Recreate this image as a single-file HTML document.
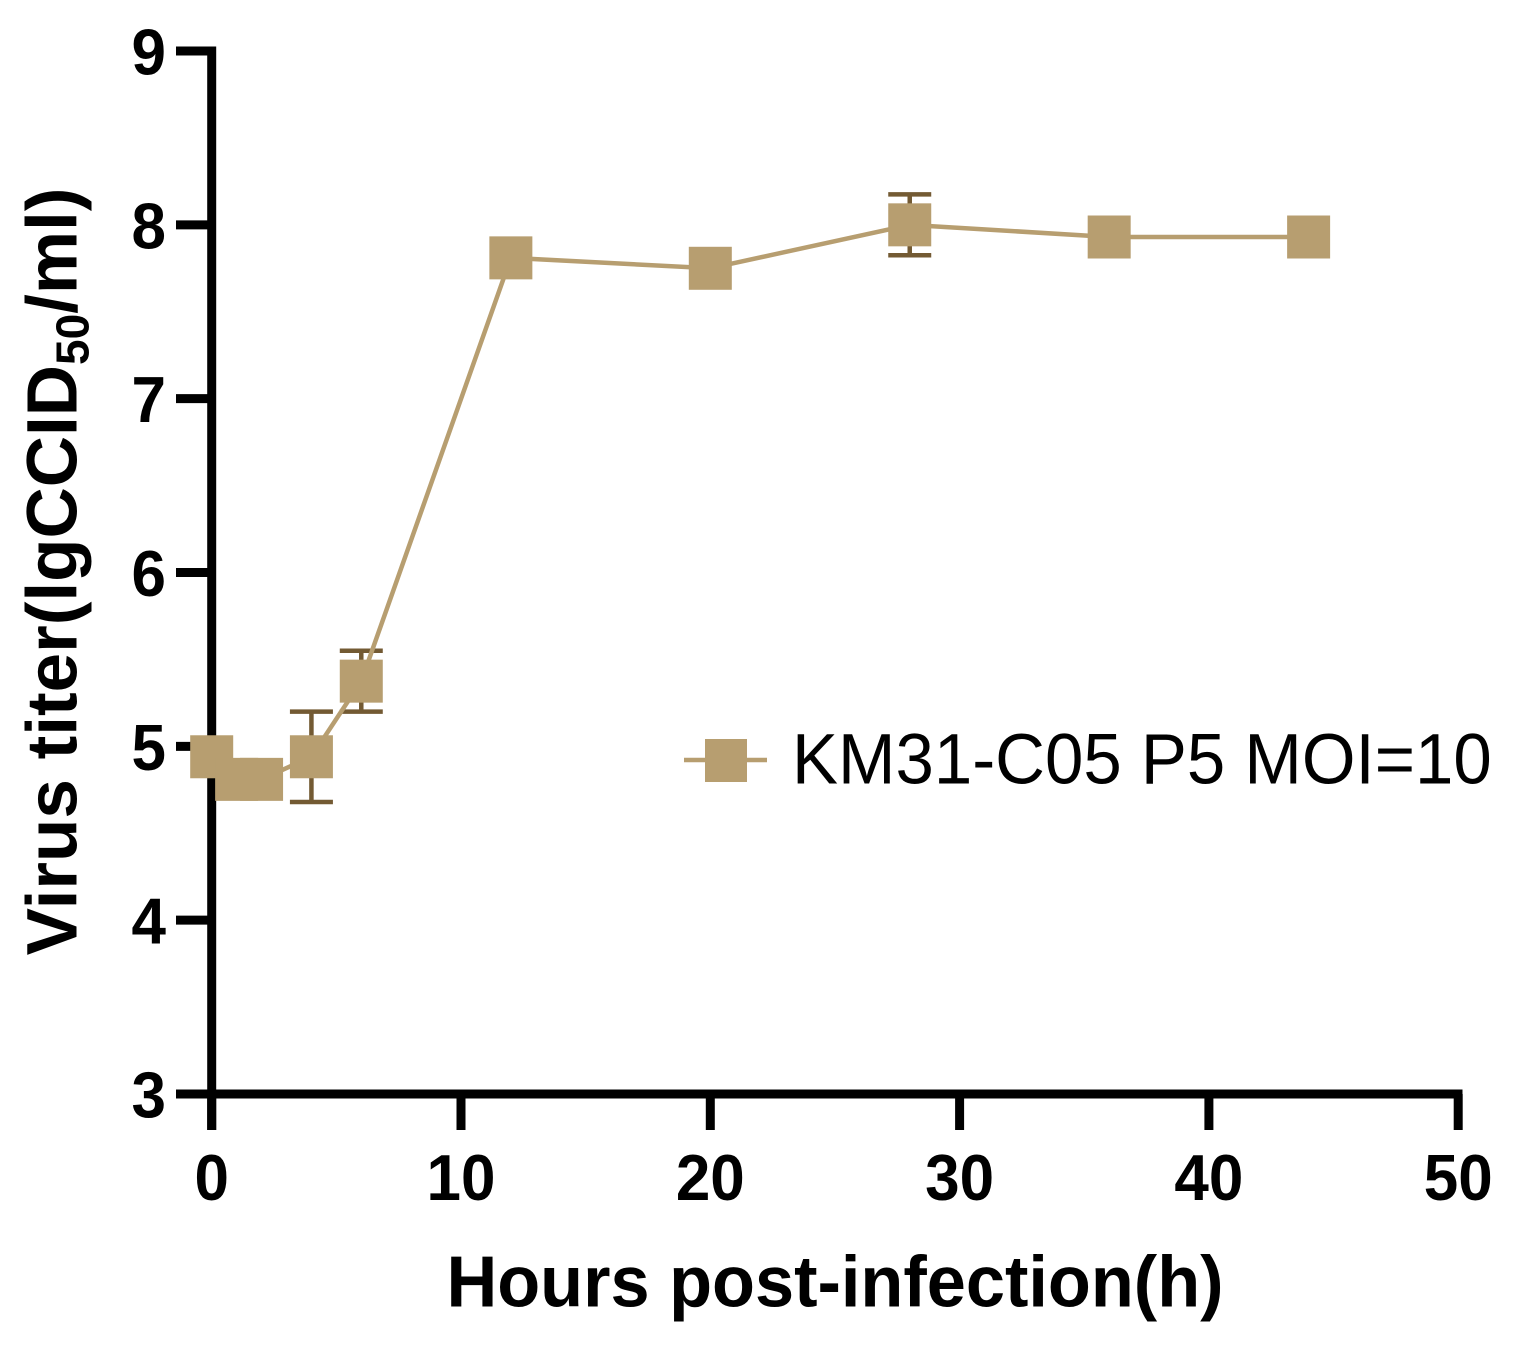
<!DOCTYPE html>
<html>
<head>
<meta charset="utf-8">
<style>
html,body{margin:0;padding:0;background:#fff;}
svg{display:block;}
text{font-family:"Liberation Sans",Arial,sans-serif;fill:#000;}
.tick{font-size:62px;font-weight:bold;}
.title{font-size:70.3px;font-weight:bold;}
.ytitle{font-size:71px;font-weight:bold;}
.legend{font-size:69px;}
</style>
</head>
<body>
<svg id="chart" width="1521" height="1348" viewBox="0 0 1521 1348" xmlns="http://www.w3.org/2000/svg">
<g id="err"></g>
<g id="axes"></g>
<g id="series"></g>
<text class="title" transform="translate(835,1306.5) scale(1,1.03)" text-anchor="middle">Hours post-infection(h)</text>
<text class="ytitle" transform="translate(76.5,571.5) rotate(-90)" text-anchor="middle">Virus titer(lgCCID<tspan font-size="46" dy="12">50</tspan><tspan dy="-12">/ml)</tspan></text>
<g>
<line x1="684" x2="767" y1="760" y2="760" stroke="#b79e70" stroke-width="4.5"/>
<rect x="705" y="739" width="42" height="43" fill="#b79e70"/>
<text class="legend" transform="translate(792,783.5) scale(1,1.04)">KM31-C05 P5 MOI=10</text>
</g>
</svg>
<script>
const hours = [0, 1, 2, 4, 6, 12, 20, 28, 36, 44];
const titers = [4.94, 4.81, 4.81, 4.94, 5.375, 7.81, 7.75, 8, 7.93, 7.93];
const errors = [0, 0, 0, 0.26, 0.175, 0, 0, 0.175, 0, 0];
const xTicks = [0, 10, 20, 30, 40, 50];
const yTicks = [3, 4, 5, 6, 7, 8, 9];

const NS = 'http://www.w3.org/2000/svg';
const COLOR = '#b79e70';
const ERR = '#735a33';
const MARKER = 43;
const CAP = 43;

function xScale(v) { return 211.7 + (v - 0) * (1458.2 - 211.7) / 50; }
function yScale(v) { return 1094 - (v - 3) * (1094 - 51) / 6; }
function make(tag, parent, attrs) {
  const el = document.createElementNS(NS, tag);
  for (const k in attrs) el.setAttribute(k, attrs[k]);
  parent.appendChild(el);
  return el;
}

const axes = document.getElementById('axes');
const errG = document.getElementById('err');
const series = document.getElementById('series');

const yAxis = make('line', axes, {x1: xScale(0), x2: xScale(0), y1: yScale(9) - 4.5, y2: 1130, stroke: '#000', 'stroke-width': 9});


const xAxis = make('line', axes, {x1: 176, x2: xScale(50) + 4.3, y1: yScale(3), y2: yScale(3), stroke: '#000', 'stroke-width': 9});



yTicks.forEach(function (t) {
  const y = yScale(t);
  const mark = make('line', axes, {x1: 176, x2: xScale(0), y1: y, y2: y, stroke: '#000', 'stroke-width': 9});
  
  
  const label = make('text', axes, {transform: 'translate(166,' + (y + 23.5) + ') scale(1,1.05)', 'text-anchor': 'end', class: 'tick'});
  label.textContent = t;
  
  
});

xTicks.forEach(function (t) {
  const x = xScale(t);
  const mark = make('line', axes, {x1: x, x2: x, y1: yScale(3), y2: 1130, stroke: '#000', 'stroke-width': 9});
  
  
  const label = make('text', axes, {transform: 'translate(' + x + ',1200) scale(1,1.05)', 'text-anchor': 'middle', class: 'tick'});
  label.textContent = t;
  
  
});

errors.forEach(function (e, i) {
  if (!e) return;
  const x = xScale(hours[i]);
  const top = yScale(titers[i] + e);
  const bottom = yScale(titers[i] - e);
  const bar = make('path', errG, {
    d: 'M' + (x - CAP / 2) + ' ' + top + 'H' + (x + CAP / 2) +
       'M' + (x - CAP / 2) + ' ' + bottom + 'H' + (x + CAP / 2) +
       'M' + x + ' ' + top + 'V' + bottom,
    stroke: ERR, 'stroke-width': 4.5, fill: 'none'
  });
  
  
});

const pts = hours.map(function (h, i) { return xScale(h) + ',' + yScale(titers[i]); }).join(' ');
const line = make('polyline', series, {points: pts, fill: 'none', stroke: COLOR, 'stroke-width': 4.5});



hours.forEach(function (h, i) {
  const pt = make('rect', series, {
    x: xScale(h) - MARKER / 2, y: yScale(titers[i]) - MARKER / 2,
    width: MARKER, height: MARKER, fill: COLOR
  });
  
  
});
</script>
</body>
</html>
